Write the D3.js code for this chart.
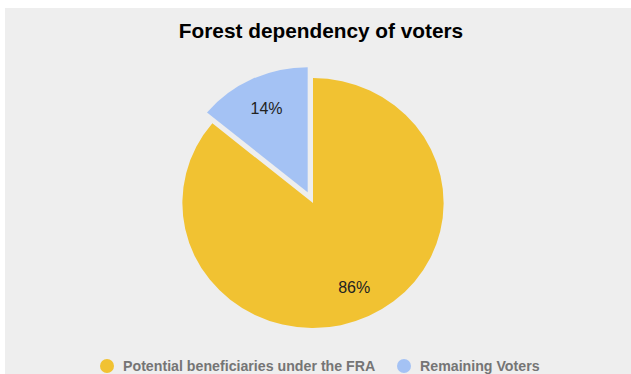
<!DOCTYPE html>
<html>
<head>
<meta charset="utf-8">
<script src="https://cdn.jsdelivr.net/npm/d3@7"></script>
<style>
  body { margin: 0; background: #fff; }
  text { font-family: "Liberation Sans", Arial, sans-serif; }
</style>
</head>
<body>
<div id="chart"></div>
<script>
var svgWidth = 631;
var svgHeight = 374;

// chart data
var categories = ["Potential beneficiaries under the FRA", "Remaining Voters"];
var shares = [86, 14];
var colors = ["#f1c232", "#a4c2f4"];
var title = "Forest dependency of voters";

var cx = 313, cy = 203;
var radius = 125;
var stretch = 1.045;   // the pie in the picture is a little wider than tall
var explode = 12;

var svg = d3.select("#chart")
  .append("svg")
  .attr("width", svgWidth)
  .attr("height", svgHeight);

svg.append("rect")
  .attr("x", 5)
  .attr("y", 8)
  .attr("width", svgWidth - 5)
  .attr("height", svgHeight - 8)
  .attr("fill", "#eeeeee");

svg.append("text")
  .attr("x", 321)
  .attr("y", 38)
  .attr("text-anchor", "middle")
  .attr("font-size", "20.8px")
  .attr("font-weight", "bold")
  .attr("fill", "#000")
  .text(title);

var data = categories.map(function(c, i) {
  return { name: c, value: shares[i], color: colors[i] };
});

// first slice runs clockwise from 12 o'clock, second ends at 12 o'clock
var pie = d3.pie()
  .sort(null)
  .value(d => d.value);

var arcs = pie(data);

var arc = d3.arc()
  .innerRadius(0)
  .outerRadius(radius);

var pieGroup = svg.append("g")
  .attr("transform", `translate(${cx}, ${cy}) scale(${stretch}, 1)`);

function offset(d) {
  if (d.index !== 1) return [0, 0];
  var mid = (d.startAngle + d.endAngle) / 2;
  return [Math.sin(mid) * explode, -Math.cos(mid) * explode];
}

pieGroup.selectAll("path")
  .data(arcs)
  .enter()
  .append("path")
  .attr("d", arc)
  .attr("transform", d => `translate(${offset(d)[0]}, ${offset(d)[1]})`)
  .attr("fill", d => d.data.color);

var labelArc = d3.arc()
  .innerRadius(radius * 0.74)
  .outerRadius(radius * 0.74);

svg.selectAll(".slice-label")
  .data(arcs)
  .enter()
  .append("text")
  .attr("class", "slice-label")
  .attr("x", d => cx + (labelArc.centroid(d)[0] + offset(d)[0]) * stretch)
  .attr("y", d => cy + labelArc.centroid(d)[1] + offset(d)[1] + 6)
  .attr("text-anchor", "middle")
  .attr("font-size", "16px")
  .attr("fill", "#222")
  .text(d => d.data.value + "%");

// legend
var legendX = [107, 404];
var legend = svg.selectAll(".legend")
  .data(data)
  .enter()
  .append("g")
  .attr("class", "legend")
  .attr("transform", (d, i) => `translate(${legendX[i]}, 366)`);

legend.append("circle")
  .attr("r", 7)
  .attr("fill", d => d.color);

legend.append("text")
  .attr("x", 16)
  .attr("y", 5)
  .attr("font-size", "14.2px")
  .attr("font-weight", "bold")
  .attr("fill", "#757575")
  .text(d => d.name);
</script>
</body>
</html>
